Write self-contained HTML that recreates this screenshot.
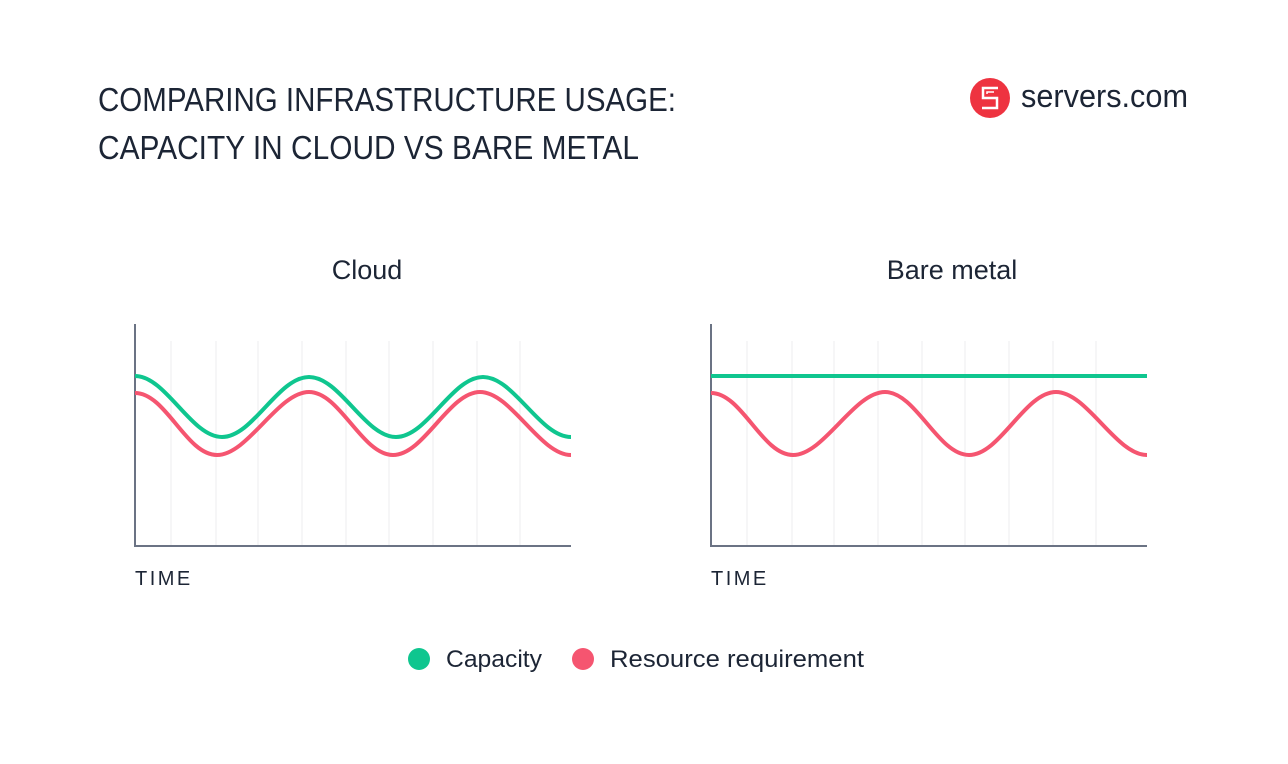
<!DOCTYPE html>
<html><head><meta charset="utf-8"><style>
html,body{margin:0;padding:0;background:#fff}
svg{display:block}
text{font-family:"Liberation Sans",sans-serif;fill:#1c2535}
</style></head><body>
<svg width="1288" height="764" viewBox="0 0 1288 764" xmlns="http://www.w3.org/2000/svg">
<text x="98" y="111" font-size="33" textLength="578" lengthAdjust="spacingAndGlyphs">COMPARING INFRASTRUCTURE USAGE:</text>
<text x="98" y="159" font-size="33" textLength="541" lengthAdjust="spacingAndGlyphs">CAPACITY IN CLOUD VS BARE METAL</text>
<circle cx="990" cy="98" r="20" fill="#ee3340"/>
<path d="M998,88 H983 V98 H997 V108 H982" fill="none" stroke="#fff" stroke-width="2.5"/>
<path d="M994,92 H987 V94" fill="none" stroke="#fff" stroke-width="1.5"/>
<text x="1021" y="107" font-size="32" textLength="167" lengthAdjust="spacingAndGlyphs">servers.com</text>
<text x="367" y="279" font-size="27" text-anchor="middle">Cloud</text>
<text x="952" y="279" font-size="27" text-anchor="middle">Bare metal</text>
<g stroke="#ececef" stroke-width="1">
<path d="M171,341V546M216,341V546M258,341V546M302,341V546M346,341V546M389,341V546M433,341V546M477,341V546M520,341V546"/>
<path d="M747,341V546M792,341V546M834,341V546M878,341V546M922,341V546M965,341V546M1009,341V546M1053,341V546M1096,341V546"/>
</g>
<g stroke="#6b7384" stroke-width="2" fill="none">
<path d="M135,324V546H571"/>
<path d="M711,324V546H1147"/>
</g>
<g fill="none" stroke-width="4">
<path stroke="#0fc68f" d="M135,376 C166,376 191,437 222,437 C253,437 278,377 309,377 C340,377 365,437 396,437 C427,437 452,377 483,377 C514,377 540,437 571,437"/>
<path stroke="#f55570" d="M135,393 C166,393 186,455 217,455 C248,455 278,392 309,392 C340,392 362,455 393,455 C424,455 449,392 480,392 C511,392 540,455 571,455"/>
<path stroke="#0fc68f" d="M711,376H1147"/>
<path stroke="#f55570" d="M711,393 C742,393 762,455 793,455 C824,455 854,392 885,392 C916,392 938,455 969,455 C1000,455 1025,392 1056,392 C1087,392 1116,455 1147,455"/>
</g>
<text x="135" y="585" font-size="20" letter-spacing="2.5">TIME</text>
<text x="711" y="585" font-size="20" letter-spacing="2.5">TIME</text>
<circle cx="419" cy="659" r="11" fill="#0fc68f"/>
<text x="446" y="667" font-size="24" textLength="96" lengthAdjust="spacingAndGlyphs">Capacity</text>
<circle cx="583" cy="659" r="11" fill="#f55570"/>
<text x="610" y="667" font-size="24" textLength="254" lengthAdjust="spacingAndGlyphs">Resource requirement</text>
</svg>
</body></html>
